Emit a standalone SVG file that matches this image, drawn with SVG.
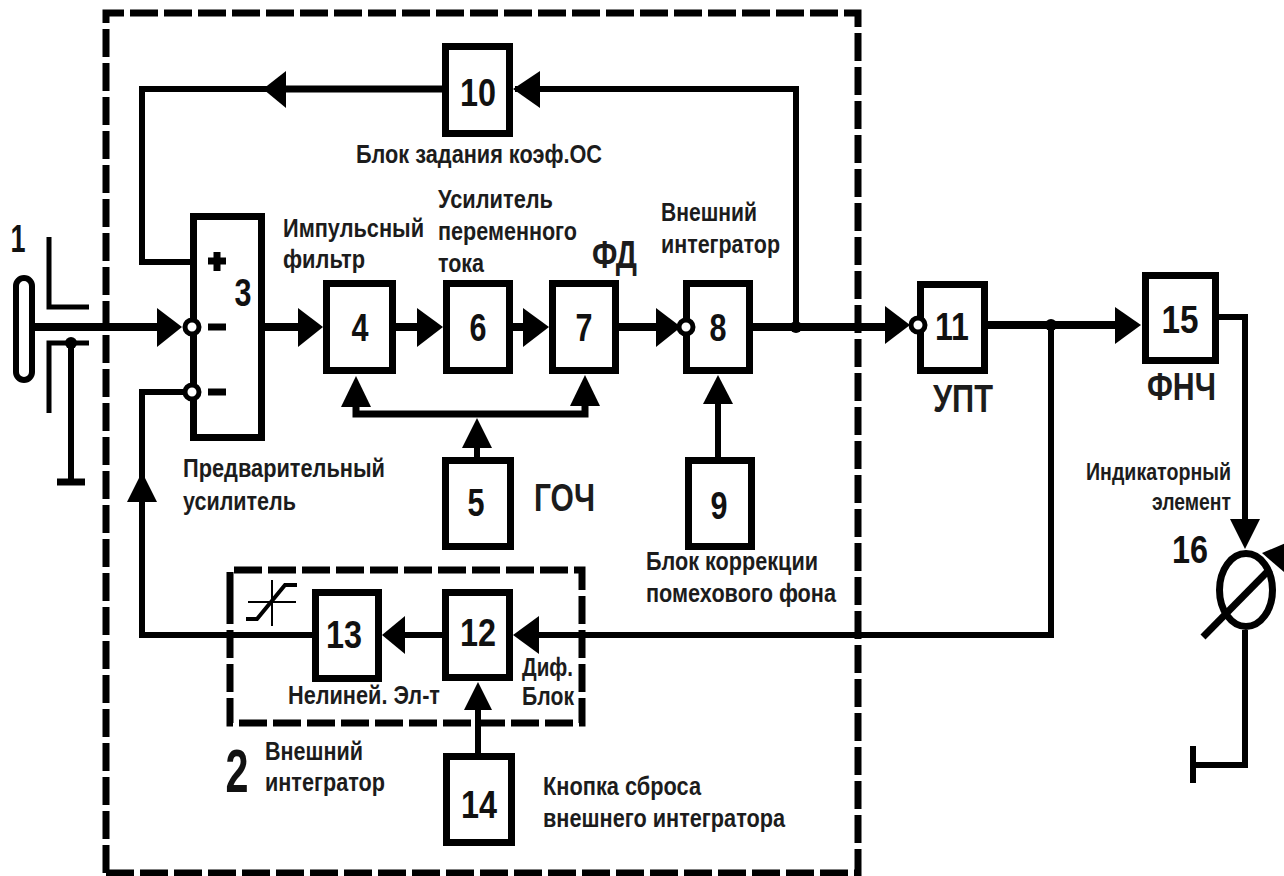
<svg xmlns="http://www.w3.org/2000/svg" width="1284" height="876" viewBox="0 0 1284 876">
<defs>
<style>
.w{fill:none;stroke:#000;stroke-width:8}
.v{fill:none;stroke:#000;stroke-width:6}
.t{fill:none;stroke:#000;stroke-width:5}
.b{fill:#fff;stroke:#000;stroke-width:7}
.c{fill:#fff;stroke:#000;stroke-width:5}
.a{fill:#000;stroke:none}
.d{fill:none;stroke:#000;stroke-width:7;stroke-dasharray:28 6}
.n{font-family:"Liberation Sans",Arial,sans-serif;font-weight:700;font-size:39px;fill:#111;text-anchor:middle}
.l{font-family:"Liberation Sans",Arial,sans-serif;font-weight:700;font-size:25px;fill:#1c1c1c}
.h{font-size:39px}
</style>
</defs>
<rect width="1284" height="876" fill="#fff"/>
<g id="frames">
<path class="d" d="M106 873V13H858V873H106"/>
<path class="d" d="M230 600V570H582V723H230V600"/>
</g>
<g id="connectors">
<path class="w" d="M35 327H165"/>
<path class="v" d="M192 262H142V89H270"/>
<path class="w" d="M442 89H270" style="stroke-width:7"/>
<path class="v" d="M515 89H796V327"/>
<path class="w" d="M265 327H300"/>
<path class="w" d="M396 327H420"/>
<path class="w" d="M513 327H528"/>
<path class="w" d="M619 327H660"/>
<path class="w" d="M753 327H888"/>
<path class="w" d="M988 325H1120"/>
<path class="v" d="M1051 325V635H535"/>
<path class="v" d="M442 635H400"/>
<path class="v" d="M312 635H142V495"/>
<path class="v" d="M192 392H142V495"/>
<path class="w" d="M356 404V414H585V404" style="stroke-width:7"/>
<path class="v" d="M477 457V440"/>
<path class="v" d="M718 457V400"/>
<path class="v" d="M478 753V705"/>
<path class="v" d="M1219 317H1245V525"/>
<path class="v" d="M1245 630V765H1193"/>
<path class="v" d="M1193 746V783"/>
<path class="a" d="M157 308L182 327L157 347Z"/>
<path class="a" d="M298 308L323 327L298 347Z"/>
<path class="a" d="M417 308L443 327L417 347Z"/>
<path class="a" d="M523 308L549 327L523 347Z"/>
<path class="a" d="M656 308L681 327L656 347Z"/>
<path class="a" d="M885 306L910 325L885 344Z"/>
<path class="a" d="M1115 307L1141 325L1115 344Z"/>
<path class="a" d="M286 71L263 89L286 108Z"/>
<path class="a" d="M540 71L513 89L540 108Z"/>
<path class="a" d="M405 616L382 635L405 654Z"/>
<path class="a" d="M539 616L513 635L539 654Z"/>
<path class="a" d="M127 502L142 472L157 502Z"/>
<path class="a" d="M341 407L356 376L371 407Z"/>
<path class="a" d="M570 406L585 375L600 406Z"/>
<path class="a" d="M462 448L477 418L492 448Z"/>
<path class="a" d="M703 404L718 375L733 404Z"/>
<path class="a" d="M464 710L478 682L492 710Z"/>
<path class="a" d="M1230 519L1245 549L1260 519Z"/>
<circle cx="796" cy="327" r="6" fill="#000"/>
<circle cx="1051" cy="325" r="6" fill="#000"/>
</g>
<g id="n1">
<rect x="16" y="278" width="16" height="102" rx="8" fill="none" stroke="#000" stroke-width="6"/>
<path class="t" d="M49 237V307H89"/>
<path class="t" d="M89 343H49V413"/>
<path class="v" d="M71 343V482"/>
<path d="M57 482H85" fill="none" stroke="#000" stroke-width="7"/>
<circle cx="71" cy="343" r="6" fill="#000"/>
<text class="n" x="18" y="252" textLength="15" lengthAdjust="spacingAndGlyphs">1</text>
</g>
<g id="n3">
<rect class="b" x="193.500" y="216.500" width="68" height="221"/>
<circle class="c" cx="192" cy="327" r="7"/>
<circle class="c" cx="192" cy="392" r="7"/>
<path d="M208 327H226M208 392H226" fill="none" stroke="#000" stroke-width="7"/>
<path d="M208 261H226M217 252V271" fill="none" stroke="#000" stroke-width="7"/>
<text class="n" x="243" y="306" textLength="17" lengthAdjust="spacingAndGlyphs">3</text>
</g>
<g id="n4"><rect class="b" x="326.500" y="283.500" width="66" height="87"/><text class="n" x="360" y="341" textLength="17" lengthAdjust="spacingAndGlyphs">4</text></g>
<g id="n5"><rect class="b" x="445.500" y="460.500" width="65" height="86"/><text class="n" x="476" y="516" textLength="17" lengthAdjust="spacingAndGlyphs">5</text></g>
<g id="n6"><rect class="b" x="446.500" y="283.500" width="63" height="87"/><text class="n" x="478" y="341" textLength="17" lengthAdjust="spacingAndGlyphs">6</text></g>
<g id="n7"><rect class="b" x="552.500" y="283.500" width="63" height="87"/><text class="n" x="584" y="341" textLength="17" lengthAdjust="spacingAndGlyphs">7</text></g>
<g id="n8"><rect class="b" x="686.500" y="283.500" width="63" height="87"/><circle class="c" cx="686" cy="327" r="7"/><text class="n" x="718" y="341" textLength="17" lengthAdjust="spacingAndGlyphs">8</text></g>
<g id="n9"><rect class="b" x="688.500" y="460.500" width="63" height="86"/><text class="n" x="719" y="519" textLength="17" lengthAdjust="spacingAndGlyphs">9</text></g>
<g id="n10"><rect class="b" x="445.500" y="46.500" width="64" height="87"/><text class="n" x="478" y="106" textLength="36" lengthAdjust="spacingAndGlyphs">10</text></g>
<g id="n11"><rect class="b" x="920.500" y="284.500" width="64" height="86"/><circle class="c" cx="918" cy="325" r="7"/><text class="n" x="952" y="340" textLength="34" lengthAdjust="spacingAndGlyphs">11</text></g>
<g id="n12"><rect class="b" x="445.500" y="592.500" width="64" height="85"/><text class="n" x="478" y="646" textLength="36" lengthAdjust="spacingAndGlyphs">12</text></g>
<g id="n13"><rect class="b" x="315.500" y="592.500" width="63" height="86"/><text class="n" x="344" y="648" textLength="36" lengthAdjust="spacingAndGlyphs">13</text></g>
<g id="n14"><rect class="b" x="446.500" y="756.500" width="65" height="86"/><text class="n" x="479" y="818" textLength="36" lengthAdjust="spacingAndGlyphs">14</text></g>
<g id="n15"><rect class="b" x="1145.500" y="275.500" width="70" height="85"/><text class="n" x="1180" y="333" textLength="37" lengthAdjust="spacingAndGlyphs">15</text></g>
<g id="n16">
<ellipse cx="1246" cy="590" rx="26.500" ry="36.500" fill="none" stroke="#000" stroke-width="7"/>
<path class="w" d="M1203 637L1270 569" style="stroke-width:7"/>
<path class="a" d="M1262 553L1286 543L1284 572Z"/>
<text class="n" x="1190" y="563" textLength="36" lengthAdjust="spacingAndGlyphs">16</text>
</g>
<g id="labels">
<text class="l" x="356" y="163" textLength="246" lengthAdjust="spacingAndGlyphs">Блок задания коэф.ОС</text>
<text class="l" x="283" y="237" textLength="141" lengthAdjust="spacingAndGlyphs">Импульсный</text>
<text class="l" x="283" y="268" textLength="82" lengthAdjust="spacingAndGlyphs">фильтр</text>
<text class="l" x="438" y="208" textLength="115" lengthAdjust="spacingAndGlyphs">Усилитель</text>
<text class="l" x="438" y="240" textLength="139" lengthAdjust="spacingAndGlyphs">переменного</text>
<text class="l" x="438" y="272" textLength="46" lengthAdjust="spacingAndGlyphs">тока</text>
<text class="l h" x="592" y="268" textLength="45" lengthAdjust="spacingAndGlyphs">ФД</text>
<text class="l" x="661" y="221" textLength="96" lengthAdjust="spacingAndGlyphs">Внешний</text>
<text class="l" x="661" y="253" textLength="119" lengthAdjust="spacingAndGlyphs">интегратор</text>
<text class="l" x="183" y="477" textLength="202" lengthAdjust="spacingAndGlyphs">Предварительный</text>
<text class="l" x="183" y="510" textLength="113" lengthAdjust="spacingAndGlyphs">усилитель</text>
<text class="l h" x="534" y="511" textLength="61" lengthAdjust="spacingAndGlyphs">ГОЧ</text>
<text class="l" x="646" y="570" textLength="172" lengthAdjust="spacingAndGlyphs">Блок коррекции</text>
<text class="l" x="646" y="602" textLength="190" lengthAdjust="spacingAndGlyphs">помехового фона</text>
<text class="l h" x="933" y="412" textLength="60" lengthAdjust="spacingAndGlyphs">УПТ</text>
<text class="l h" x="1147" y="400" textLength="69" lengthAdjust="spacingAndGlyphs">ФНЧ</text>
<text class="l" x="1086" y="480" textLength="145" lengthAdjust="spacingAndGlyphs" style="font-size:23px">Индикаторный</text>
<text class="l" x="1152" y="510" textLength="79" lengthAdjust="spacingAndGlyphs" style="font-size:23px">элемент</text>
<text class="l" x="288" y="704" textLength="152" lengthAdjust="spacingAndGlyphs">Нелиней. Эл-т</text>
<text class="l" x="522" y="676" textLength="51" lengthAdjust="spacingAndGlyphs">Диф.</text>
<text class="l" x="522" y="705" textLength="52" lengthAdjust="spacingAndGlyphs">Блок</text>
<text class="n" x="237" y="792" textLength="23" lengthAdjust="spacingAndGlyphs" style="font-size:61px">2</text>
<text class="l" x="265" y="760" textLength="98" lengthAdjust="spacingAndGlyphs">Внешний</text>
<text class="l" x="265" y="791" textLength="120" lengthAdjust="spacingAndGlyphs">интегратор</text>
<text class="l" x="543" y="795" textLength="158" lengthAdjust="spacingAndGlyphs">Кнопка сброса</text>
<text class="l" x="543" y="827" textLength="242" lengthAdjust="spacingAndGlyphs">внешнего интегратора</text>
</g>
<g id="limiter">
<path d="M246 619H257L285 585H297" fill="none" stroke="#000" stroke-width="4"/>
<path d="M248 602H296M272 580V626" fill="none" stroke="#000" stroke-width="2"/>
</g>
</svg>
